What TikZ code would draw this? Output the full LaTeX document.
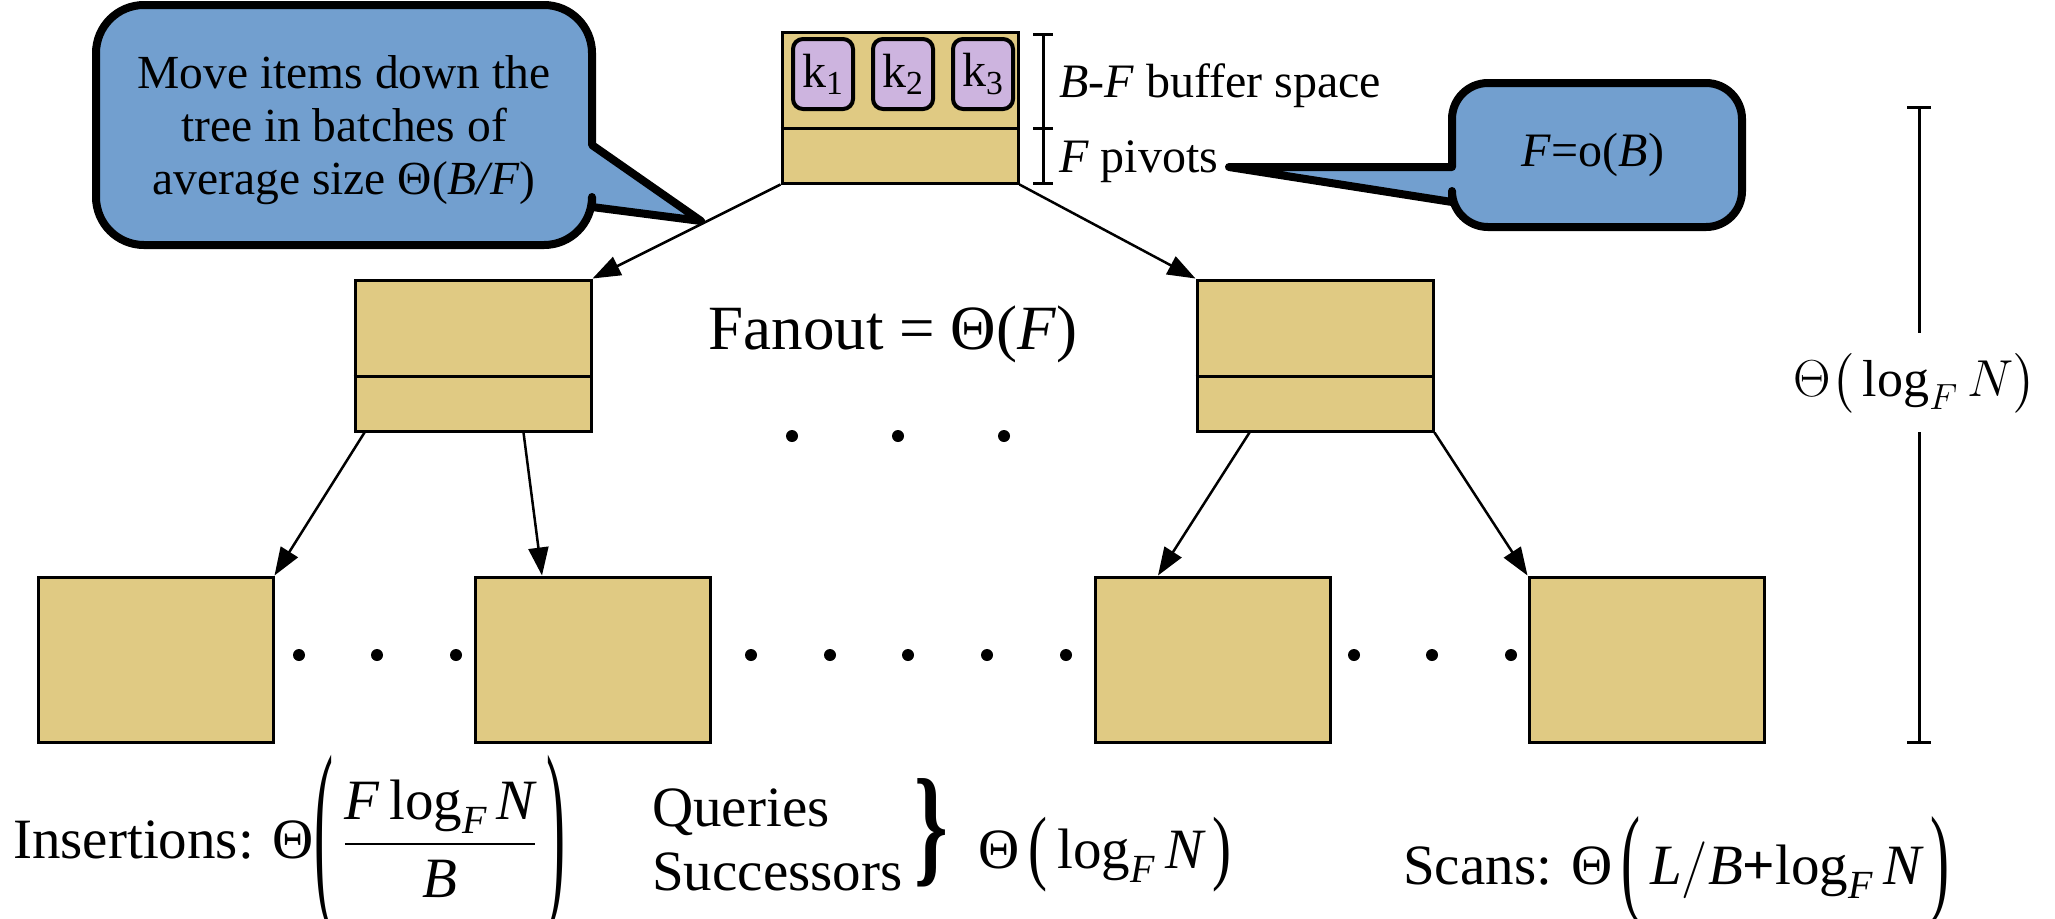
\RequirePackage{fix-cm}
\documentclass[tikz,border=0pt]{standalone}
\usepackage{amsmath}
\usepackage{graphicx}
\usepackage{fontspec}
\setmainfont{Liberation Serif}
\usetikzlibrary{arrows.meta,positioning}

\definecolor{nodetan}{HTML}{E0CA83}
\definecolor{keylilac}{HTML}{CDB4DF}
\definecolor{bubbleblue}{HTML}{729FCF}

% thin stretched delimiter: #1 stretch, #2 raise, #3 glyph
\newcommand{\tallpar}[3]{\raisebox{#2}{\scalebox{1}[#1]{#3}}}

\begin{document}
\begin{tikzpicture}[
    x=0.5pt, y=-0.5pt,
    >={Triangle[length=14pt,width=10pt]},
    line width=1.25pt,
    treenode/.style={rectangle, draw=black, fill=nodetan, line width=1.5pt, minimum width=118pt, minimum height=75.5pt, inner sep=0pt},
    leaf/.style={rectangle, draw=black, fill=nodetan, line width=1.5pt, minimum width=117.5pt, minimum height=82.5pt, inner sep=0pt},
    keybox/.style={rectangle, draw=black, fill=keylilac, line width=2pt, rounded corners=5pt, minimum width=30pt, minimum height=35pt, inner sep=0pt, font=\fontsize{24}{26}\selectfont},
    bubble/.style={draw=black, fill=bubbleblue, line width=4pt, line join=round},
    note/.style={font=\fontsize{24}{27}\selectfont, inner sep=0pt},
    bignote/.style={font=\fontsize{28.5}{32}\selectfont, inner sep=0pt},
    tdot/.style={circle, fill=black, inner sep=0pt, minimum size=6pt}
]
    \useasboundingbox (0,0) rectangle (2055,918);

    % callouts
    \coordinate (tipL) at (701,221);
    \draw[bubble] (tipL) -- (592,207) [rounded corners=24pt] -- (592,245) -- (96,245) -- (96,5) -- (592,5) [sharp corners] -- (592,145) -- cycle;
    \node[note, align=center, font=\fontsize{23.75}{26.5}\selectfont] (move) at (344,130)
        {Move items down the\\tree in batches of\\average size Θ(\textit{B/F})};

    \coordinate (tipR) at (1229,167);
    \draw[bubble] (tipR) -- (1452,167) [rounded corners=18pt] -- (1452,83) -- (1742,83) -- (1742,227) -- (1452,227) [sharp corners] -- (1452,202) -- cycle;
    \node[note] (fcond) at (1593,155) {\textit{F}=o(\textit{B})};

    % root
    \node[treenode] (root) at (900,107.5) {};
    \draw[line width=1.5pt] ([yshift=-10.25pt]root.west) -- ([yshift=-10.25pt]root.east);
    \node[keybox] (k1) at (823,74) {k\textsubscript{1}};
    \node[keybox, right=8pt of k1] (k2) {k\textsubscript{2}};
    \node[keybox, right=8pt of k2] (k3) {k\textsubscript{3}};

    \draw[line width=1.5pt] (1033,34) -- (1053,34) (1043,34) -- (1043,183)
        (1033,128) -- (1053,128) (1033,183) -- (1053,183);
    \node[note, anchor=base west] (buf) at (1058,97) {\textit{B}-\textit{F} buffer space};
    \node[note, anchor=base west] (piv) at (1058,172) {\textit{F} pivots};

    % second level
    \node[treenode] (L) at (473,355.5) {};
    \draw[line width=1.5pt] ([yshift=-10.25pt]L.west) -- ([yshift=-10.25pt]L.east);
    \node[treenode] (R) at (1315,355.5) {};
    \draw[line width=1.5pt] ([yshift=-10.25pt]R.west) -- ([yshift=-10.25pt]R.east);
    \node[font=\fontsize{31.5}{34}\selectfont, inner sep=0pt, anchor=base] (fanout) at (893,349) {Fanout = Θ(\textit{F})};

    % leaves
    \node[leaf] (leafA) at (155.5,659.5) {};
    \node[leaf] (leafB) at (593,659.5) {};
    \node[leaf] (leafC) at (1213,659.5) {};
    \node[leaf] (leafD) at (1646.5,659.5) {};

    \draw[->] (root.south west) -- (L.north east);
    \draw[->] (root.south east) -- (R.north west);
    \draw[->] ([xshift=5.5pt]L.south west) -- (leafA.north east);
    \draw[->] ([xshift=-34.5pt]L.south east) -- ([xshift=34pt]leafB.north west);
    \draw[->] ([xshift=27pt]R.south west) -- ([xshift=32pt]leafC.north west);
    \draw[->] (R.south east) -- (leafD.north west);

    \foreach \x [count=\i] in {792,898,1004}
        \node[tdot] (mid\i) at (\x,436) {};
    \foreach \x [count=\i] in {299,377,456,751,830,908,987,1066,1354,1432,1511}
        \node[tdot] (low\i) at (\x,655) {};

    % height
    \draw[line width=1.5pt] (1907,107) -- (1931,107) (1919,107) -- (1919,333);
    \draw[line width=1.5pt] (1919,432) -- (1919,742) (1907,742) -- (1931,742);
    \node[font=\fontsize{26}{30}\selectfont, inner sep=0pt] (depth) at (1915,383) {$\Theta\bigl(\,\log_{F} N\bigr)$};

    % costs
    \node[bignote, anchor=base west] (ins) at (12,858)
        {Insertions: Θ$\tallpar{3.5}{-0.625em}{(}\,\dfrac{\textit{F}\,\text{log}_{\textit{F}}\,\textit{N}}{\textit{B}}\,\tallpar{3.5}{-0.625em}{)}$};
    \node[bignote, anchor=base west] (qry) at (651,826) {Queries};
    \node[bignote, anchor=base west] (succ) at (651,890) {Successors};
    \node[bignote, anchor=base] (brace) at (931,851) {\raisebox{-0.325em}{\scalebox{1.5}[2.3]{\textbf{\}}}}};
    \node[bignote, anchor=base west] (qcost) at (977,868)
        {Θ$\,\tallpar{1.45}{-0.11em}{(}\,\text{log}_{\textit{F}}\,\textit{N}\,\tallpar{1.45}{-0.11em}{)}$};
    \node[bignote, anchor=base west] (scan) at (1402,884)
        {Scans: Θ$\,\tallpar{2.1}{-0.275em}{(}\,\textit{L}/\textit{B}\textbf{+}\text{log}_{\textit{F}}\,\textit{N}\,\tallpar{2.1}{-0.275em}{)}$};
\end{tikzpicture}
\end{document}
